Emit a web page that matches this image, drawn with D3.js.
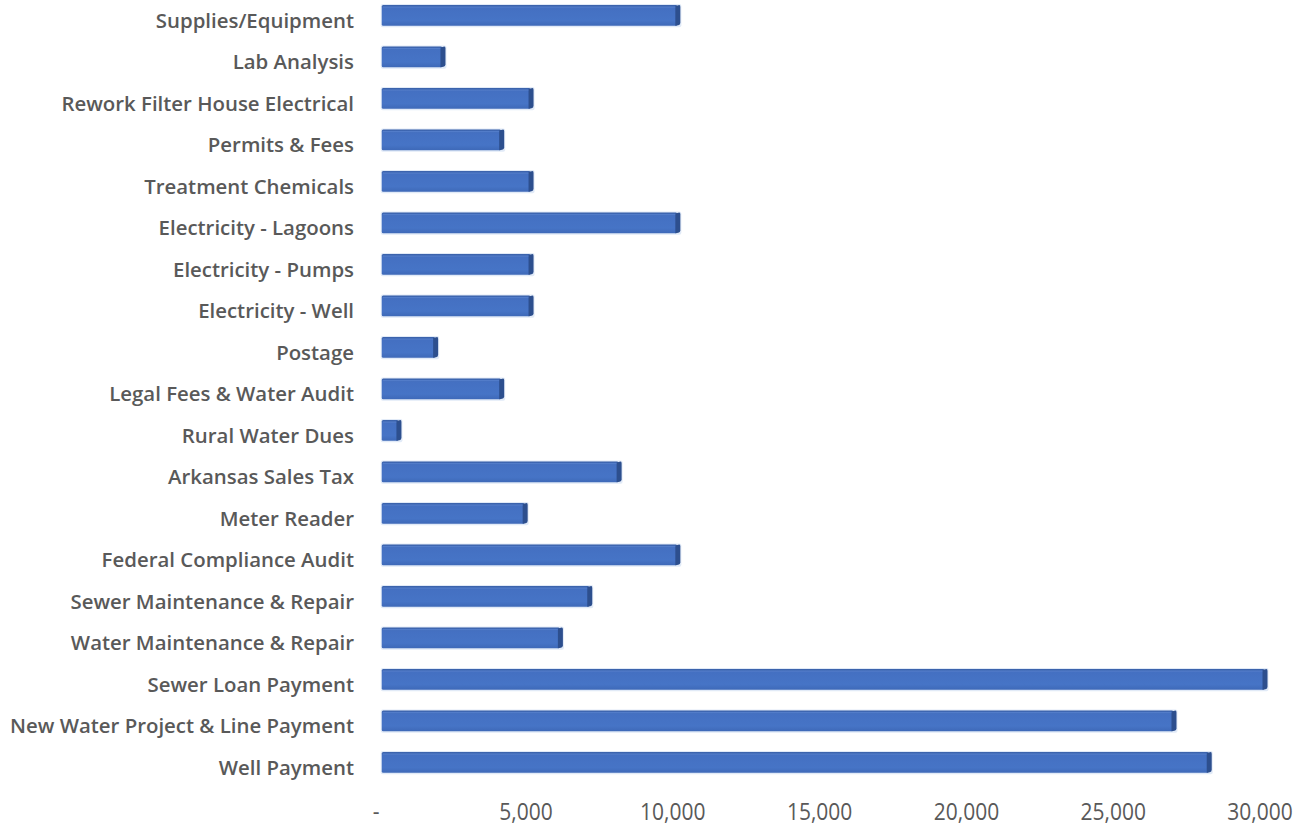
<!DOCTYPE html>
<html>
<head>
<meta charset="utf-8">
<script src="https://cdn.jsdelivr.net/npm/d3@7/dist/d3.min.js"></script>
<style>
  html, body { margin: 0; padding: 0; background: #ffffff; }
  svg { display: block; }
  .cat text { font-family: "Open Sans", Lato, sans-serif; font-weight: 600; font-size: 20.4px; fill: #595959; }
  .xaxis text { font-family: "Open Sans", Lato, sans-serif; font-weight: 400; font-size: 21px; fill: #595959; }
</style>
</head>
<body>
<svg id="chart" width="1304" height="828"></svg>
<script>
// Annual expense line items, top to bottom as listed
const categories = [
  "Supplies/Equipment",
  "Lab Analysis",
  "Rework Filter House Electrical",
  "Permits & Fees",
  "Treatment Chemicals",
  "Electricity - Lagoons",
  "Electricity - Pumps",
  "Electricity - Well",
  "Postage",
  "Legal Fees & Water Audit",
  "Rural Water Dues",
  "Arkansas Sales Tax",
  "Meter Reader",
  "Federal Compliance Audit",
  "Sewer Maintenance & Repair",
  "Water Maintenance & Repair",
  "Sewer Loan Payment",
  "New Water Project & Line Payment",
  "Well Payment"
];
const amounts = [
  10000, 2000, 5000, 4000, 5000, 10000, 5000, 5000, 1750, 4000,
  500, 8000, 4800, 10000, 7000, 6000, 30000, 26900, 28100
];
const tickValues = [0, 5000, 10000, 15000, 20000, 25000, 30000];

const svg = d3.select("#chart");

const x = d3.scaleLinear().domain([0, 30000]).range([381.75, 1262.5]);
const y = d3.scaleBand().domain(categories).range([5, 772.75]).paddingInner(0.5).paddingOuter(0);

// gradient for the bevelled front face
const defs = svg.append("defs");
const g1 = defs.append("linearGradient").attr("id", "front").attr("x1", 0).attr("y1", 0).attr("x2", 0).attr("y2", 1);
g1.append("stop").attr("offset", "0%").attr("stop-color", "#3a61a9");
g1.append("stop").attr("offset", "16%").attr("stop-color", "#4470c2");
g1.append("stop").attr("offset", "75%").attr("stop-color", "#4674c6");
g1.append("stop").attr("offset", "100%").attr("stop-color", "#3e69b8");

const depth = 5;   // width of the shaded end face
const bars = svg.append("g").attr("class", "bars")
  .selectAll("g").data(categories).join("g");

// soft glow around each bar
bars.append("rect")
  .attr("x", x(0) - 1)
  .attr("y", d => y(d) - 1)
  .attr("width", (d, i) => x(amounts[i]) - x(0) + depth + 2)
  .attr("height", y.bandwidth() + 2.5)
  .attr("rx", 2)
  .attr("fill", "#c9d8f0")
  .attr("opacity", 0.55);

// front face
bars.append("rect")
  .attr("x", x(0))
  .attr("y", d => y(d))
  .attr("width", (d, i) => x(amounts[i]) - x(0) + 2)
  .attr("height", y.bandwidth())
  .attr("rx", 1.5)
  .attr("fill", "url(#front)");

// dark end face
bars.append("path")
  .attr("d", (d, i) => {
    const xe = x(amounts[i]);
    const t = y(d), b = y(d) + y.bandwidth();
    return `M${xe},${t + 1} L${xe + depth - 1},${t} Q${xe + depth},${t} ${xe + depth},${t + 2}` +
           ` L${xe + depth},${b - 3} Q${xe + depth},${b - 1} ${xe + depth - 2},${b - 0.5} L${xe},${b} Z`;
  })
  .attr("fill", "#2d4f8e");

// thin highlight on the upper edge
bars.append("rect")
  .attr("x", x(0) + 1)
  .attr("y", d => y(d) + 1.5)
  .attr("width", (d, i) => Math.max(0, x(amounts[i]) - x(0) - 1))
  .attr("height", 1.2)
  .attr("fill", "#5f88d3")
  .attr("opacity", 0.6);

// category labels
svg.append("g").attr("class", "cat")
  .selectAll("text").data(categories).join("text")
  .attr("x", 354)
  .attr("y", d => y(d) + y.bandwidth() / 2 + 12.5)
  .attr("text-anchor", "end")
  .text(d => d);

// value axis (accounting style: zero shown as a dash)
const xAxis = d3.axisBottom(x)
  .tickValues(tickValues)
  .tickSize(0)
  .tickPadding(0)
  .tickFormat(v => v === 0 ? "-" : d3.format(",")(v));

const ax = svg.append("g").attr("class", "xaxis")
  .attr("transform", "translate(0,820)")
  .call(xAxis);
ax.select(".domain").remove();
ax.selectAll("text")
  .attr("y", 0)
  .attr("dy", 0)
  .attr("dx", v => v === 0 ? -6 : -3)
  .attr("transform", "scale(1,1.1)");
</script>
</body>
</html>
